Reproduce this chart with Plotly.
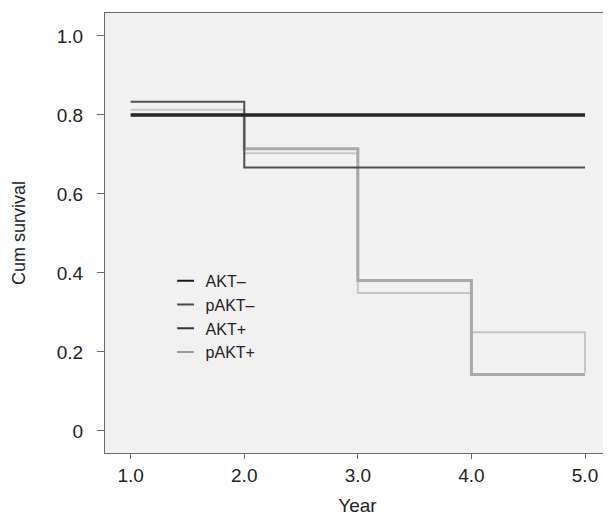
import plotly.graph_objects as go

years = [1, 2, 3, 4, 5]
akt_neg = [0.80, 0.80, 0.80, 0.80, 0.80]
pakt_neg = [0.833, 0.667, 0.667, 0.667, 0.667]
akt_pos = [0.80, 0.714, 0.381, 0.143, 0.143]
pakt_pos = [0.813, 0.703, 0.349, 0.250, 0.148]

series_names = ["AKT\u2013", "pAKT\u2013", "AKT+", "pAKT+"]
x_ticks = [1, 2, 3, 4, 5]
x_labels = ["1.0", "2.0", "3.0", "4.0", "5.0"]
y_ticks = [0, 0.2, 0.4, 0.6, 0.8, 1.0]
y_labels = ["0", "0.2", "0.4", "0.6", "0.8", "1.0"]

line_styles = {
    "pAKT+": dict(color="#c6c6c6", width=2),
    "AKT+": dict(color="#a9a9a9", width=3),
    "pAKT\u2013": dict(color="#505050", width=2),
    "AKT\u2013": dict(color="#262626", width=3.5),
}
legend_styles = {
    "AKT\u2013": dict(color="#1a1a1a", width=5),
    "pAKT\u2013": dict(color="#4a4a4a", width=2.5),
    "AKT+": dict(color="#333333", width=4),
    "pAKT+": dict(color="#9a9a9a", width=2.5),
}
data = {
    "AKT\u2013": akt_neg,
    "pAKT\u2013": pakt_neg,
    "AKT+": akt_pos,
    "pAKT+": pakt_pos,
}

fig = go.Figure()
for name in ["pAKT+", "AKT+", "pAKT\u2013", "AKT\u2013"]:
    fig.add_trace(go.Scatter(
        x=years, y=data[name], mode="lines", line_shape="hv",
        line=line_styles[name], name=name, legendgroup=name,
        showlegend=False, hoverinfo="skip"))

for name in series_names:
    st = legend_styles[name]
    fig.add_trace(go.Scatter(
        x=[None], y=[None], mode="markers", name=name, legendgroup=name,
        marker=dict(symbol="line-ew", size=13,
                    line=dict(color=st["color"], width=st["width"])),
        showlegend=True))

# page body adds an 8px margin, so the figure is sized to fit inside it
fig.update_layout(
    width=603, height=508,
    margin=dict(l=97, r=1, t=5, b=63),
    paper_bgcolor="white",
    plot_bgcolor="#f1f1f2",
    font=dict(family="Liberation Sans, Arial, sans-serif", size=19, color="#222222"),
    showlegend=True,
    legend=dict(x=0.12, y=0.43, xanchor="left", yanchor="top",
                bgcolor="rgba(0,0,0,0)", font=dict(size=16),
                tracegroupgap=0, itemsizing="constant"),
    xaxis=dict(range=[0.774, 5.22], tickvals=x_ticks, ticktext=x_labels,
               showgrid=False, zeroline=False, showline=True, linecolor="#6a6a6a",
               linewidth=1, mirror=True, ticks="outside", ticklen=5,
               tickcolor="#6a6a6a", tickfont=dict(size=19),
               ticklabelstandoff=0,
               title=dict(text="Year", standoff=15, font=dict(size=19))),
    yaxis=dict(range=[-0.056, 1.058], tickvals=y_ticks, ticktext=y_labels,
               showgrid=False, zeroline=False, showline=True, linecolor="#6a6a6a",
               linewidth=1, mirror=True, ticks="outside", ticklen=7,
               tickcolor="#6a6a6a", tickfont=dict(size=19),
               ticklabelstandoff=10,
               title=dict(text="Cum survival", standoff=26, font=dict(size=18))),
)

fig.write_html("out.html")
